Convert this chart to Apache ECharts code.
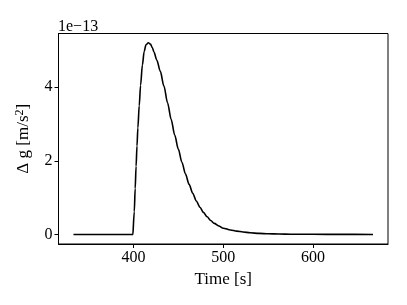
<!DOCTYPE html>
<html>
<head>
<meta charset="utf-8">
<script src="https://cdn.jsdelivr.net/npm/echarts@6/dist/echarts.min.js"></script>
<style>html,body{margin:0;padding:0;background:#fff}#c{width:407px;height:305px}</style>
</head>
<body>
<div id="c"></div>
<script>
// Time [s]
const timeValues = [333.33, 350, 375, 399.5, 400, 401, 402, 403, 404, 405, 406.5, 408, 410, 412, 414, 416.7, 419, 421, 423, 426, 430, 434, 438, 442, 446, 450, 454, 458, 462, 466, 470, 474, 478, 482, 486, 490, 495, 500, 508, 515, 522, 530, 540, 550, 562, 575, 600, 630, 666.67];
// Δg in units of 1e-13 m/s^2
const gValues = [0, 0, 0, 0, 0, 0.62, 1.25, 1.85, 2.4, 2.9, 3.5, 4.05, 4.6, 4.97, 5.15, 5.21, 5.17, 5.08, 4.95, 4.74, 4.43, 4.03, 3.58, 3.13, 2.70, 2.32, 1.96, 1.64, 1.36, 1.12, 0.91, 0.74, 0.60, 0.48, 0.38, 0.30, 0.23, 0.17, 0.12, 0.09, 0.065, 0.045, 0.028, 0.018, 0.01, 0.006, 0.003, 0.001, 0];
const xTicks = [400, 500, 600];
const yTicks = [0, 2, 4];
const offsetText = '1e\u221213';

const chart = echarts.init(document.getElementById('c'));
const font = '"Liberation Serif", "Times New Roman", "DejaVu Serif", serif';
chart.setOption({
  animation: false,
  grid: {left: 58.5, top: 33.5, right: 19, bottom: 61, show: true, borderColor: '#000', borderWidth: 1, backgroundColor: 'transparent'},
  xAxis: {
    type: 'value', min: 316.67, max: 683.33,
    name: 'Time [s]', nameLocation: 'middle', nameGap: 24,
    nameTextStyle: {fontFamily: font, fontSize: 17, color: '#000'},
    axisLine: {show: true, onZero: false, lineStyle: {color: '#000', width: 1}},
    axisTick: {show: true, customValues: xTicks, length: 4, lineStyle: {color: '#000'}},
    axisLabel: {customValues: xTicks, fontFamily: font, fontSize: 16, color: '#000', margin: 6},
    splitLine: {show: false}
  },
  yAxis: {
    type: 'value', min: -0.26, max: 5.46,
    name: '{a|\u0394 g [m/s}{s|2}{a|]}', nameLocation: 'middle', nameGap: 22,
    nameTextStyle: {fontFamily: font, fontSize: 17, color: '#000',
      rich: {a: {fontFamily: font, fontSize: 17, color: '#000', lineHeight: 20},
             s: {fontFamily: font, fontSize: 12, color: '#000', lineHeight: 20, padding: [0, 0, 8, 0]}}},
    axisLine: {show: true, onZero: false, lineStyle: {color: '#000', width: 1}},
    axisTick: {show: true, customValues: yTicks, length: 4, lineStyle: {color: '#000'}},
    axisLabel: {customValues: yTicks, fontFamily: font, fontSize: 16, color: '#000', margin: 6},
    splitLine: {show: false}
  },
  graphic: [{type: 'text', left: 58, top: 19, style: {text: offsetText, font: '16px ' + font, fill: '#000'}}],
  series: [{
    type: 'line', data: timeValues.map((t, i) => [t, gValues[i]]),
    showSymbol: false, smooth: 0.3, smoothMonotone: 'x',
    lineStyle: {color: '#000', width: 1.6}
  }]
});
</script>
</body>
</html>
